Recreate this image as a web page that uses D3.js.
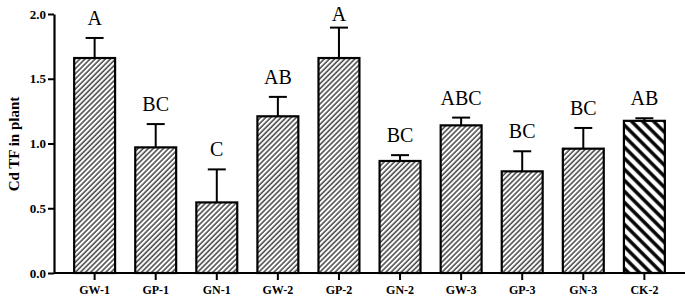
<!DOCTYPE html>
<html><head><meta charset="utf-8">
<script src="https://cdn.jsdelivr.net/npm/d3@7"></script>
<style>body{margin:0;background:#fff}</style>
</head><body>
<script>
const categories = ["GW-1","GP-1","GN-1","GW-2","GP-2","GN-2","GW-3","GP-3","GN-3","CK-2"];
const means = [1.66,0.97,0.545,1.21,1.66,0.865,1.14,0.785,0.96,1.175];
const errors = [0.155,0.18,0.255,0.15,0.235,0.045,0.06,0.155,0.16,0.02];
const letters = ["A","BC","C","AB","A","BC","ABC","BC","BC","AB"];
const yTicks = [0,0.5,1.0,1.5,2.0];

const W=685,H=297;
const serif='"Liberation Serif"';
const svg=d3.select("body").append("svg").attr("width",W).attr("height",H);
const defs=svg.append("defs");
defs.append("pattern").attr("id","thin").attr("patternUnits","userSpaceOnUse")
  .attr("width",3.6).attr("height",10).attr("patternTransform","rotate(45)")
  .append("line").attr("x1",1).attr("x2",1).attr("y1",0).attr("y2",10)
  .attr("stroke","#000").attr("stroke-width",1.1);
defs.append("pattern").attr("id","thick").attr("patternUnits","userSpaceOnUse")
  .attr("width",7.8).attr("height",10).attr("patternTransform","rotate(-45)")
  .append("line").attr("x1",2).attr("x2",2).attr("y1",0).attr("y2",10)
  .attr("stroke","#000").attr("stroke-width",3.4);

const x=d3.scaleBand().domain(categories).range([54,685]).paddingInner(0.33).paddingOuter(0.33);
const y=d3.scaleLinear().domain([0,2]).range([273,14]);

const g=svg.append("g");
categories.forEach((c,i)=>{
  const cx=x(c)+x.bandwidth()/2;
  const top=y(means[i]+errors[i]);
  g.append("line").attr("x1",cx).attr("x2",cx).attr("y1",y(means[i])).attr("y2",top)
   .attr("stroke","#000").attr("stroke-width",2);
  g.append("line").attr("x1",cx-9).attr("x2",cx+9).attr("y1",top).attr("y2",top)
   .attr("stroke","#000").attr("stroke-width",2);
  g.append("text").attr("x",cx).attr("y",Math.max(top-13,21)).attr("text-anchor","middle")
   .style("font-family",serif).style("font-size","20px").text(letters[i]);
});
g.selectAll("rect.bar").data(categories).enter().append("rect")
  .attr("x",d=>x(d)).attr("width",x.bandwidth())
  .attr("y",(d,i)=>y(means[i])).attr("height",(d,i)=>y(0)-y(means[i]))
  .attr("fill",d=>d==="CK-2"?"url(#thick)":"url(#thin)")
  .attr("stroke","#000").attr("stroke-width",2.2);

const ya=svg.append("g").attr("transform","translate(54,0)")
  .call(d3.axisLeft(y).tickValues(yTicks).tickFormat(d3.format(".1f")).tickSize(6).tickSizeOuter(0));
const xa=svg.append("g").attr("transform","translate(0,273)")
  .call(d3.axisBottom(x).tickSize(7).tickSizeOuter(0));
[ya,xa].forEach(a=>{
  a.attr("font-family",null).attr("font-size",null);
  a.select(".domain").attr("stroke-width",2.2);
  a.selectAll(".tick line").attr("stroke-width",2);
  a.selectAll("text").style("font-family",serif).style("font-weight","bold").attr("fill","#000");
});
ya.selectAll("text").style("font-size","13px").attr("x",-8);
xa.selectAll("text").style("font-size","12px").attr("dy","0.72em").attr("y",12);
xa.select(".domain").attr("d","M54,0H685");
svg.append("text").attr("transform","translate(19,144) rotate(-90)").attr("text-anchor","middle")
  .style("font-family",serif).style("font-weight","bold").style("font-size","15px").text("Cd TF in plant");
</script>
</body></html>
